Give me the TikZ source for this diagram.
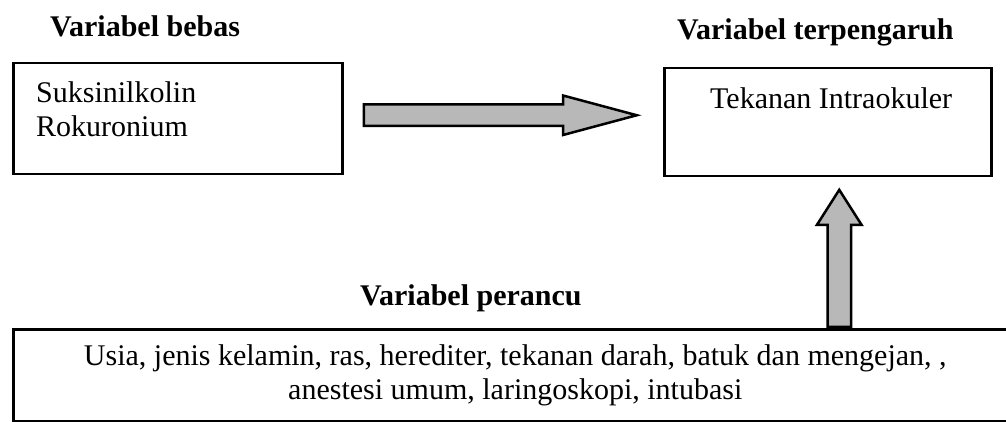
\documentclass[tikz,border=0pt]{standalone}
\usepackage{fontspec}
\setmainfont{Liberation Serif}
\usetikzlibrary{shapes.arrows,positioning}

\begin{document}
\begin{tikzpicture}[
    x=1pt, y=-1pt,
    kotak/.style={rectangle, draw, line width=2.5pt, inner sep=0pt},
    judul/.style={font=\fontsize{30}{34}\selectfont\bfseries, inner sep=0pt, anchor=base west},
    isi/.style={font=\fontsize{30}{34}\selectfont, inner sep=0pt, anchor=base west},
    panah/.style={single arrow, draw, line width=2.5pt, fill=black!28, inner xsep=0pt, single arrow head indent=0pt}
]
\useasboundingbox (0,0) rectangle (1006,422);

% Judul
\node[judul] (jbebas) at (50,37) {Variabel bebas};
\node[judul] (jterpengaruh) at (677,40) {Variabel terpengaruh};
\node[judul] (jperancu) at (360,305) {Variabel perancu};

% Variabel bebas
\node[kotak, minimum width=329pt, minimum height=111pt, anchor=north west] (bebas) at (12,62) {};
\node[isi] (obat1) at (36,103) {Suksinilkolin};
\node[isi, below=34pt of obat1.base west, anchor=base west] (obat2) {Rokuronium};

% Variabel terpengaruh
\node[kotak, minimum width=327pt, minimum height=108pt, anchor=north west] (terpengaruh) at (663,67) {};
\node[isi] (tio) at (710,109) {Tekanan Intraokuler};

% Variabel perancu
\node[kotak, minimum width=1004pt, minimum height=92pt, anchor=north west, align=center,
      font=\fontsize{30}{34}\selectfont] (perancu) at (12,328)
    {Usia, jenis kelamin, ras, herediter, tekanan darah, batuk dan mengejan, ,\\
     anestesi umum, laringoskopi, intubasi};

% Panah
\node[panah, minimum height=273pt, inner ysep=9.5pt, single arrow head extend=9pt,
      single arrow tip angle=30, right=19pt of bebas.east, yshift=3.5pt] (pengaruh) {};
\node[panah, minimum height=137pt, inner ysep=10.5pt, single arrow head extend=10.5pt,
      single arrow tip angle=65, anchor=tip, rotate=90]
    (naik) at ([xshift=11.5pt, yshift=-10pt]terpengaruh.south) {};

\end{tikzpicture}
\end{document}
